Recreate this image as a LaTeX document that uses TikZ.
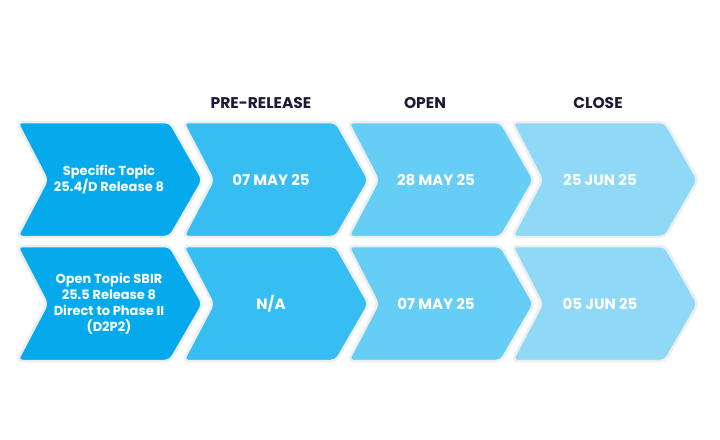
\documentclass[tikz,border=0pt]{standalone}
\usepackage{fontspec}
\setmainfont{Poppins}
\usepackage{tikz}
\definecolor{stepA}{HTML}{05AAEC}
\definecolor{stepB}{HTML}{36BDF1}
\definecolor{stepC}{HTML}{66CDF4}
\definecolor{stepD}{HTML}{8FD9F7}
\definecolor{rim}{HTML}{ECEEF0}
\definecolor{navy}{HTML}{1B1B33}
\tikzset{
    chevbox/.style={fill=#1, draw=rim, line width=2.5pt, rounded corners=5pt},
    steptext/.style={text=white, font=\bfseries\fontsize{15}{18}\selectfont, align=center},
    toptext/.style={text=white, font=\bfseries\fontsize{13}{16}\selectfont, align=center},
    headtext/.style={text=navy, font=\bfseries\fontsize{15.5}{18}\selectfont}
}
% chevron: left x, centre y, colour, name
\newcommand{\chevron}[4]{
    \draw[chevbox=#3] (#1,#2-58) -- (#1+153,#2-58) -- (#1+186,#2)
        -- (#1+153,#2+57) -- (#1,#2+57) -- (#1+30,#2) -- cycle;
    \coordinate (#4) at (#1+100,#2);
}

\begin{document}
\begin{tikzpicture}[x=1pt, y=-1pt]
    \useasboundingbox (0,0) rectangle (720,439);

    % chevrons, back to front
    \foreach \row/\yc in {1/180, 2/304} {
        \chevron{512}{\yc}{stepD}{c4\row}
        \chevron{348}{\yc}{stepC}{c3\row}
        \chevron{183}{\yc}{stepB}{c2\row}
        \chevron{17}{\yc}{stepA}{c1\row}
    }

    % column headings
    \node[headtext] (hpre) at (261,103) {PRE-RELEASE};
    \node[headtext] (hopen) at (425,103) {OPEN};
    \node[headtext] (hclose) at (598,103) {CLOSE};

    % row 1
    \node[toptext] (t11) at ([xshift=-8pt]c11) {Specific Topic\\25.4/D Release 8};
    \node[steptext] (t21) at ([xshift=-12pt]c21) {07 MAY 25};
    \node[steptext] (t31) at ([xshift=-12pt]c31) {28 MAY 25};
    \node[steptext] (t41) at ([xshift=-12pt]c41) {25 JUN 25};

    % row 2
    \node[toptext] (t12) at ([xshift=-8pt]c12) {Open Topic SBIR\\25.5 Release 8\\Direct to Phase II\\(D2P2)};
    \node[steptext] (t22) at ([xshift=-12pt]c22) {N/A};
    \node[steptext] (t32) at ([xshift=-12pt]c32) {07 MAY 25};
    \node[steptext] (t42) at ([xshift=-12pt]c42) {05 JUN 25};
\end{tikzpicture}
\end{document}
